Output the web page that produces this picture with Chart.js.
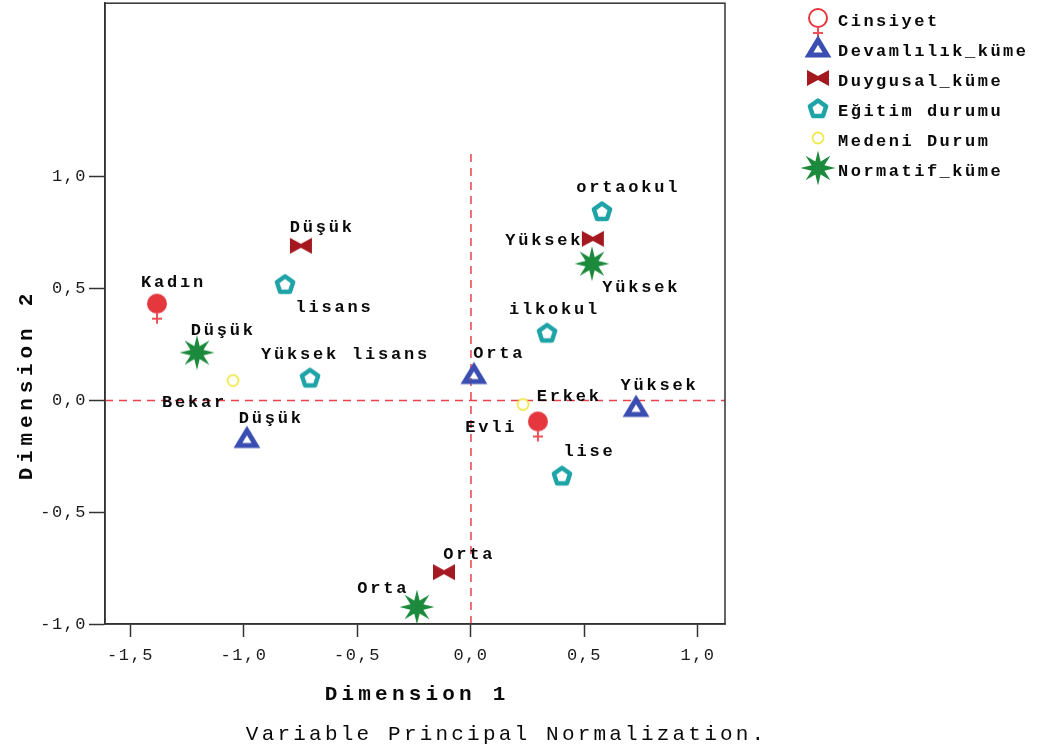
<!DOCTYPE html>
<html>
<head>
<meta charset="utf-8">
<script src="https://cdn.jsdelivr.net/npm/chart.js@4"></script>
<style>
  html, body { margin: 0; padding: 0; background: #fff; overflow: hidden; }
  #wrap { width: 1043px; height: 750px; overflow: hidden; }
  #chart { display: block; margin-top: -9px; }
</style>
</head>
<body>
<div id="wrap"><canvas id="chart" width="1043" height="759"></canvas></div>
<script>
// --- data (Dimension 1 / Dimension 2) ---
const seriesNames = ['Cinsiyet', 'Devamlılık_küme', 'Duygusal_küme', 'Eğitim durumu', 'Medeni Durum', 'Normatif_küme'];

const cinsiyetCats = ['Kadın', 'Erkek'];
const cinsiyetDim1 = [-1.383, 0.295];
const cinsiyetDim2 = [0.433, -0.094];

const devamCats = ['Düşük', 'Orta', 'Yüksek'];
const devamDim1 = [-0.987, 0.013, 0.727];
const devamDim2 = [-0.170, 0.116, -0.031];

const duyguCats = ['Düşük', 'Yüksek', 'Orta'];
const duyguDim1 = [-0.749, 0.537, -0.119];
const duyguDim2 = [0.692, 0.723, -0.768];

const egitimCats = ['lisans', 'Yüksek lisans', 'ortaokul', 'ilkokul', 'lise'];
const egitimDim1 = [-0.819, -0.709, 0.577, 0.335, 0.401];
const egitimDim2 = [0.522, 0.103, 0.848, 0.304, -0.335];

const medeniCats = ['Bekar', 'Evli'];
const medeniDim1 = [-1.048, 0.229];
const medeniDim2 = [0.089, -0.018];

const normatifCats = ['Düşük', 'Yüksek', 'Orta'];
const normatifDim1 = [-1.207, 0.533, -0.238];
const normatifDim2 = [0.214, 0.612, -0.924];

const xTicks = [-1.5, -1.0, -0.5, 0.0, 0.5, 1.0];
const yTicks = [-1.0, -0.5, 0.0, 0.5, 1.0];
const xRange = [-1.612, 1.119];
const yRange = [-1.0, 1.777];

// label placement (pixel offsets of the text centre from the marker)
const labelShift = [
  [[15, -23], [30, -26]],
  [[23, -21], [24, -23], [22, -23]],
  [[20, -20], [-50, 0], [24, -19]],
  [[48, 22], [34, -24], [25, -25], [6, -24], [26, -25]],
  [[-40, 20], [-33, 22]],
  [[25, -24], [48, 22], [-35, -20]]
];

const TOP = 9; // canvas is shifted up by this much

// --- marker images ---
function makeMarker(w, h, draw) {
  const c = document.createElement('canvas');
  c.width = w; c.height = h;
  draw(c.getContext('2d'), w / 2, h / 2);
  return c;
}
function female(filled) {
  return makeMarker(26, 52, (g, cx, cy) => {
    g.beginPath(); g.arc(cx, cy, filled ? 10 : 9, 0, Math.PI * 2);
    if (filled) { g.fillStyle = '#e5383e'; g.fill(); }
    else { g.strokeStyle = '#e5383e'; g.lineWidth = 2; g.stroke(); }
    g.strokeStyle = '#ec5257'; g.lineWidth = 2;
    g.beginPath();
    g.moveTo(cx, cy + 9); g.lineTo(cx, cy + 20);
    g.moveTo(cx - 5, cy + 15); g.lineTo(cx + 5, cy + 15);
    g.stroke();
  });
}
const triangle = makeMarker(30, 30, (g, cx, cy) => {
  g.strokeStyle = '#3a4db0'; g.lineWidth = 5; g.lineJoin = 'miter';
  g.beginPath();
  g.moveTo(cx, cy - 8); g.lineTo(cx + 9, cy + 7); g.lineTo(cx - 9, cy + 7); g.closePath();
  g.stroke();
});
const bowtie = makeMarker(26, 20, (g, cx, cy) => {
  g.fillStyle = '#a3191f';
  g.beginPath();
  g.moveTo(cx - 11, cy - 8); g.lineTo(cx, cy - 2); g.lineTo(cx + 11, cy - 8);
  g.lineTo(cx + 11, cy + 8); g.lineTo(cx, cy + 2); g.lineTo(cx - 11, cy + 8);
  g.closePath(); g.fill();
});
const pentagon = makeMarker(30, 30, (g, cx, cy) => {
  g.strokeStyle = '#1ea3a6'; g.lineWidth = 4.5; g.lineJoin = 'round';
  g.beginPath();
  for (let i = 0; i < 5; i++) {
    const a = -Math.PI / 2 + i * 2 * Math.PI / 5;
    const px = cx + 8.5 * Math.cos(a), py = cy + 1 + 8.5 * Math.sin(a);
    i ? g.lineTo(px, py) : g.moveTo(px, py);
  }
  g.closePath(); g.stroke();
});
const ring = makeMarker(16, 16, (g, cx, cy) => {
  g.fillStyle = '#fff'; g.strokeStyle = '#f0e94e'; g.lineWidth = 1.8;
  g.beginPath(); g.arc(cx, cy, 5.5, 0, Math.PI * 2); g.fill(); g.stroke();
});
const star = makeMarker(38, 38, (g, cx, cy) => {
  g.fillStyle = '#1b8a3c';
  g.beginPath();
  for (let i = 0; i < 16; i++) {
    const r = i % 2 ? 7 : 17.5;
    const a = -Math.PI / 2 + i * Math.PI / 8;
    const px = cx + r * Math.cos(a), py = cy + r * Math.sin(a);
    i ? g.lineTo(px, py) : g.moveTo(px, py);
  }
  g.closePath(); g.fill();
});

const plotStyles = [female(true), triangle, bowtie, pentagon, ring, star];
const legendStyles = [female(false), triangle, bowtie, pentagon, ring, star];

const cats = [cinsiyetCats, devamCats, duyguCats, egitimCats, medeniCats, normatifCats];
const dim1 = [cinsiyetDim1, devamDim1, duyguDim1, egitimDim1, medeniDim1, normatifDim1];
const dim2 = [cinsiyetDim2, devamDim2, duyguDim2, egitimDim2, medeniDim2, normatifDim2];

const datasets = seriesNames.map((name, k) => ({
  label: name,
  data: dim1[k].map((x, i) => ({ x: x, y: dim2[k][i] })),
  pointStyle: plotStyles[k],
  pointRadius: 10,
  order: k === 0 ? 0 : 1
}));
// dashed reference lines through the origin
datasets.push({
  label: 'ref-v', data: [{ x: 0, y: yRange[0] }, { x: 0, y: 1.107 }],
  showLine: true, pointRadius: 0, borderColor: '#e8414a', borderWidth: 1.5, borderDash: [8, 6], order: 10
});
datasets.push({
  label: 'ref-h', data: [{ x: xRange[0], y: 0 }, { x: xRange[1], y: 0 }],
  showLine: true, pointRadius: 0, borderColor: '#e8414a', borderWidth: 1.5, borderDash: [8, 6], order: 10
});

const MONO = '"Liberation Mono", "DejaVu Sans Mono", monospace';

function spacedText(ctx, text, x, y, font, spacing, align) {
  ctx.save();
  ctx.font = font;
  ctx.letterSpacing = spacing + 'px';
  ctx.textAlign = align || 'center';
  ctx.textBaseline = 'alphabetic';
  ctx.fillStyle = '#0a0a0a';
  ctx.fillText(text, align === 'left' ? x : x + spacing / 2, y);
  ctx.restore();
}

const decor = {
  id: 'decor',
  beforeDraw(chart) {
    chart.ctx.letterSpacing = '1.5px';
  },
  afterDatasetsDraw(chart) {
    const ctx = chart.ctx;
    // category labels
    seriesNames.forEach((name, k) => {
      const meta = chart.getDatasetMeta(k);
      meta.data.forEach((pt, i) => {
        const [dx, dy] = labelShift[k][i];
        spacedText(ctx, cats[k][i], pt.x + dx, pt.y + dy + 6, 'bold 17px ' + MONO, 2.8);
      });
    });
  },
  afterDraw(chart) {
    const ctx = chart.ctx;
    const a = chart.chartArea;
    ctx.save();
    ctx.letterSpacing = '0px';
    ctx.strokeStyle = '#333';
    ctx.lineWidth = 1.5;
    ctx.strokeRect(a.left, a.top, a.right - a.left, a.bottom - a.top);
    ctx.restore();

    // axis titles and note
    spacedText(ctx, 'Dimension 1', (a.left + a.right) / 2, TOP + 700, 'bold 21px ' + MONO, 4.2);
    ctx.save();
    ctx.translate(25, TOP + 387);
    ctx.rotate(-Math.PI / 2);
    spacedText(ctx, 'Dimension 2', 0, 7, 'bold 21px ' + MONO, 4.8);
    ctx.restore();
    spacedText(ctx, 'Variable Principal Normalization.', 505, TOP + 740, '21px ' + MONO, 3.2);

    // legend
    seriesNames.forEach((name, k) => {
      const cy = TOP + 18 + k * 30;
      const img = legendStyles[k];
      ctx.drawImage(img, 818 - img.width / 2, cy - img.height / 2);
      spacedText(ctx, name, 838, cy + 8, 'bold 17px ' + MONO, 2.5, 'left');
    });
    ctx.letterSpacing = '0px';
  }
};

new Chart(document.getElementById('chart'), {
  type: 'scatter',
  data: { datasets: datasets },
  options: {
    responsive: false,
    animation: false,
    events: [],
    layout: { padding: { left: 0, right: 318, top: 0, bottom: 0 } },
    plugins: { legend: { display: false }, tooltip: { enabled: false } },
    scales: {
      x: {
        type: 'linear', min: xRange[0], max: xRange[1],
        afterBuildTicks: s => { s.ticks = xTicks.map(v => ({ value: v })); },
        afterFit: s => { s.height = 126; },
        grid: { drawOnChartArea: false, drawTicks: true, tickLength: 13, color: '#333', tickWidth: 1.5 },
        border: { display: true, color: '#333', width: 1.5 },
        ticks: {
          padding: 8, color: '#1a1a1a', font: { family: MONO, size: 17 },
          callback: v => v.toFixed(1).replace('.', ',')
        }
      },
      y: {
        type: 'linear', min: yRange[0], max: yRange[1],
        afterBuildTicks: s => { s.ticks = yTicks.map(v => ({ value: v })); },
        afterFit: s => { s.width = 105; },
        grid: { drawOnChartArea: false, drawTicks: true, tickLength: 16, color: '#333', tickWidth: 1.5 },
        border: { display: true, color: '#333', width: 1.5 },
        ticks: {
          padding: 2, color: '#1a1a1a', font: { family: MONO, size: 17 },
          callback: v => v.toFixed(1).replace('.', ',')
        }
      }
    }
  },
  plugins: [decor]
});
</script>
</body>
</html>
